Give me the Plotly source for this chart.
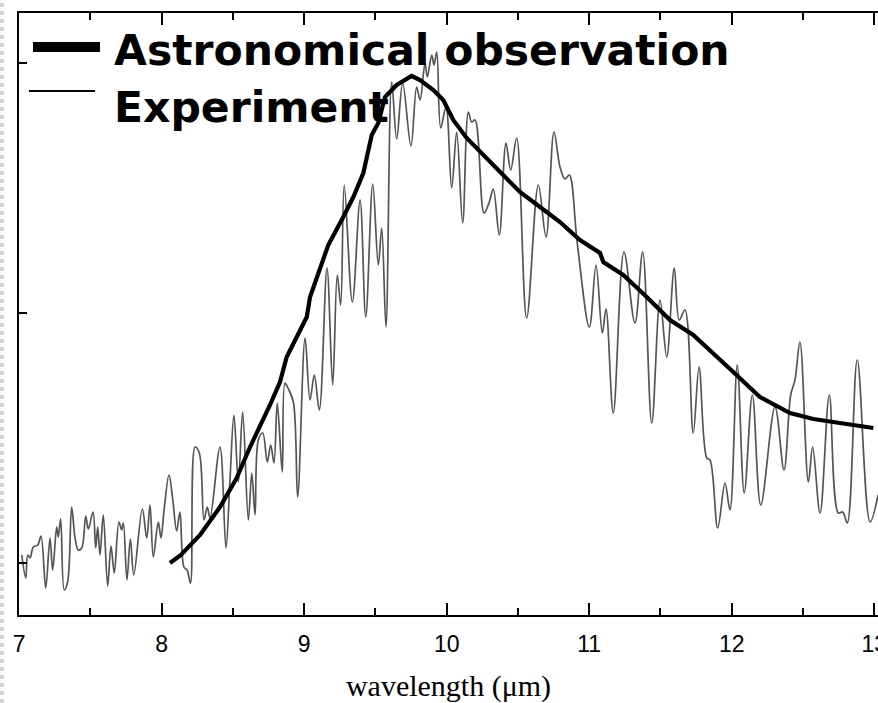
import plotly.graph_objects as go

# Experiment spectrum (wavelength in µm, relative absorbance)
exp_wavelength = [
    7.018, 7.046, 7.060, 7.076, 7.099, 7.130, 7.153, 7.186, 7.216, 7.235,
    7.263, 7.274, 7.291, 7.316, 7.340, 7.368, 7.392, 7.415, 7.439, 7.467,
    7.485, 7.518, 7.537, 7.551, 7.567, 7.590, 7.621, 7.644, 7.667, 7.700,
    7.719, 7.731, 7.756, 7.780, 7.804, 7.864, 7.895, 7.918, 7.941, 7.976,
    7.995, 8.016, 8.051, 8.077, 8.105, 8.128, 8.156, 8.178, 8.202, 8.234,
    8.264, 8.297, 8.320, 8.339, 8.409, 8.451, 8.479, 8.507, 8.538, 8.568,
    8.608, 8.632, 8.655, 8.678, 8.709, 8.741, 8.765, 8.788, 8.811, 8.846,
    8.865, 8.886, 8.924, 8.954, 9.006, 9.041, 9.071, 9.106, 9.160, 9.200,
    9.232, 9.256, 9.281, 9.338, 9.392, 9.432, 9.481, 9.520, 9.544, 9.574,
    9.614, 9.649, 9.691, 9.749, 9.789, 9.813, 9.848, 9.864, 9.895, 9.911,
    9.930, 9.958, 9.995, 10.035, 10.070, 10.112, 10.152, 10.175, 10.199, 10.262,
    10.299, 10.327, 10.369, 10.416, 10.449, 10.491, 10.561, 10.643, 10.697, 10.753,
    10.795, 10.830, 10.860, 10.916, 11.001, 11.048, 11.092, 11.118, 11.169, 11.244,
    11.321, 11.375, 11.439, 11.497, 11.544, 11.597, 11.632, 11.672, 11.730, 11.771,
    11.825, 11.848, 11.902, 11.953, 11.988, 12.039, 12.088, 12.145, 12.204, 12.304,
    12.367, 12.414, 12.444, 12.479, 12.538, 12.568, 12.620, 12.685, 12.748, 12.779,
    12.811, 12.881, 12.971, 13.027,
]
exp_absorbance = [
    0.032, -0.060, 0.032, 0.020, 0.064, 0.072, 0.108, -0.100, 0.100, -0.028,
    0.144, 0.104, 0.176, -0.108, -0.076, 0.224, 0.100, 0.052, 0.060, 0.188,
    0.136, 0.204, 0.060, 0.144, 0.032, 0.192, -0.092, 0.068, -0.040, 0.164,
    0.132, 0.160, -0.068, 0.096, -0.048, 0.216, 0.100, 0.232, 0.024, 0.164,
    0.100, 0.208, 0.352, 0.256, 0.128, 0.204, -0.016, -0.028, -0.080, 0.464,
    0.440, 0.172, 0.224, 0.180, 0.464, 0.060, 0.332, 0.592, 0.324, 0.604,
    0.172, 0.360, 0.192, 0.492, 0.520, 0.404, 0.472, 0.400, 0.640, 0.364,
    0.720, 0.700, 0.644, 0.264, 0.900, 0.652, 0.752, 0.612, 1.180, 0.712,
    1.152, 1.032, 1.512, 1.044, 1.452, 0.984, 1.516, 1.192, 1.340, 0.944,
    1.924, 1.696, 1.920, 1.668, 1.904, 1.852, 2.000, 1.944, 2.032, 1.992,
    2.044, 1.740, 1.824, 1.500, 1.724, 1.360, 1.804, 1.764, 1.772, 1.400,
    1.444, 1.496, 1.312, 1.680, 1.572, 1.700, 0.980, 1.512, 1.304, 1.724,
    1.584, 1.536, 1.552, 1.280, 0.944, 1.192, 0.920, 1.016, 0.600, 1.244,
    0.960, 1.244, 0.560, 1.052, 0.824, 1.180, 0.972, 1.012, 0.520, 0.784,
    0.420, 0.412, 0.140, 0.320, 0.212, 0.792, 0.280, 0.672, 0.232, 0.624,
    0.372, 0.672, 0.732, 0.884, 0.324, 0.464, 0.200, 0.672, 0.200, 0.204,
    0.160, 0.812, 0.164, 0.272,
]

# Astronomical observation
obs_wavelength = [
    8.058, 8.135, 8.269, 8.409, 8.526, 8.620, 8.760, 8.830, 8.877, 8.947,
    9.018, 9.041, 9.088, 9.169, 9.274, 9.345, 9.415, 9.474, 9.520, 9.567,
    9.649, 9.754, 9.813, 9.906, 9.976, 10.046, 10.140, 10.257, 10.374, 10.514,
    10.655, 10.795, 10.935, 11.076, 11.099, 11.239, 11.404, 11.567, 11.730, 11.871,
    12.011, 12.198, 12.409, 12.573, 12.807, 12.994,
]
obs_absorbance = [
    0.000, 0.032, 0.112, 0.224, 0.340, 0.464, 0.632, 0.724, 0.824, 0.904,
    0.984, 1.064, 1.144, 1.272, 1.384, 1.464, 1.560, 1.712, 1.760, 1.864,
    1.912, 1.948, 1.932, 1.892, 1.852, 1.772, 1.700, 1.632, 1.564, 1.484,
    1.424, 1.364, 1.292, 1.240, 1.204, 1.152, 1.064, 0.972, 0.912, 0.840,
    0.764, 0.664, 0.600, 0.576, 0.556, 0.540,
]

x_ticks = [7, 8, 9, 10, 11, 12, 13]
x_ticktext = ["7", "8", "9", "10", "11", "12", "13"]
y_ticks = [0, 1, 2]

legend_labels = ["Astronomical observation", "Experiment"]

fig = go.Figure()
fig.add_trace(go.Scatter(
    x=exp_wavelength, y=exp_absorbance, mode="lines",
    line=dict(color="#555555", width=1.7, shape="spline", smoothing=1.0),
    name=legend_labels[1], showlegend=False,
))
fig.add_trace(go.Scatter(
    x=obs_wavelength, y=obs_absorbance, mode="lines",
    line=dict(color="black", width=4.2),
    name=legend_labels[0], showlegend=False,
))

W, H = 878, 703
L, R, T, B = 19, 0, 13, 88
pw, ph = W - L - R, H - T - B

def px(x):
    return (x - L) / pw

def py(y):
    return (H - B - y) / ph

# legend samples
fig.add_shape(type="line", xref="paper", yref="paper",
              x0=px(33), x1=px(100), y0=py(47), y1=py(47),
              line=dict(color="black", width=10))
fig.add_shape(type="line", xref="paper", yref="paper",
              x0=px(29), x1=px(95), y0=py(91), y1=py(91),
              line=dict(color="black", width=2))
fig.add_annotation(xref="paper", yref="paper", x=px(112), y=py(51),
                   xanchor="left", yanchor="middle", showarrow=False,
                   text=legend_labels[0],
                   font=dict(family="DejaVu Sans", size=42.5, color="black", weight="bold"))
fig.add_annotation(xref="paper", yref="paper", x=px(112), y=py(107),
                   xanchor="left", yanchor="middle", showarrow=False,
                   text=legend_labels[1],
                   font=dict(family="DejaVu Sans", size=42.5, color="black", weight="bold"))

# faint dotted page border on the left
fig.add_shape(type="line", xref="paper", yref="paper",
              x0=px(2), x1=px(2), y0=py(703), y1=py(0),
              line=dict(color="#d4d4d4", width=4, dash="dot"))

fig.update_xaxes(
    range=[7 - 0.2 / 142.5, 7 + (W - 19.2) / 142.5],
    tickvals=x_ticks, ticktext=x_ticktext,
    ticks="inside", ticklen=12, tickwidth=2, tickcolor="black",
    minor=dict(dtick=0.5, tick0=7, ticks="inside", ticklen=7, tickwidth=2, tickcolor="black"),
    showline=True, linewidth=2, linecolor="black", mirror="allticks",
    showgrid=False, zeroline=False, automargin=False,
    tickfont=dict(family="Liberation Sans", size=23, color="black"),
    ticklabelstandoff=7,
    ticklabeloverflow="allow",
    title=dict(text="wavelength (μm)", font=dict(family="Liberation Serif", size=30, color="black"), standoff=21),
)
fig.update_yaxes(
    range=[-0.208, 2.2],
    tickvals=y_ticks, showticklabels=False,
    ticks="inside", ticklen=8, tickwidth=2, tickcolor="black",
    showline=True, linewidth=2, linecolor="black", mirror=False,
    showgrid=False, zeroline=False, automargin=False,
)
fig.update_layout(
    width=W, height=H,
    margin=dict(l=L, r=R, t=T, b=B, pad=0, autoexpand=False),
    paper_bgcolor="white", plot_bgcolor="white",
    showlegend=False,
)
fig.write_html("out.html")
